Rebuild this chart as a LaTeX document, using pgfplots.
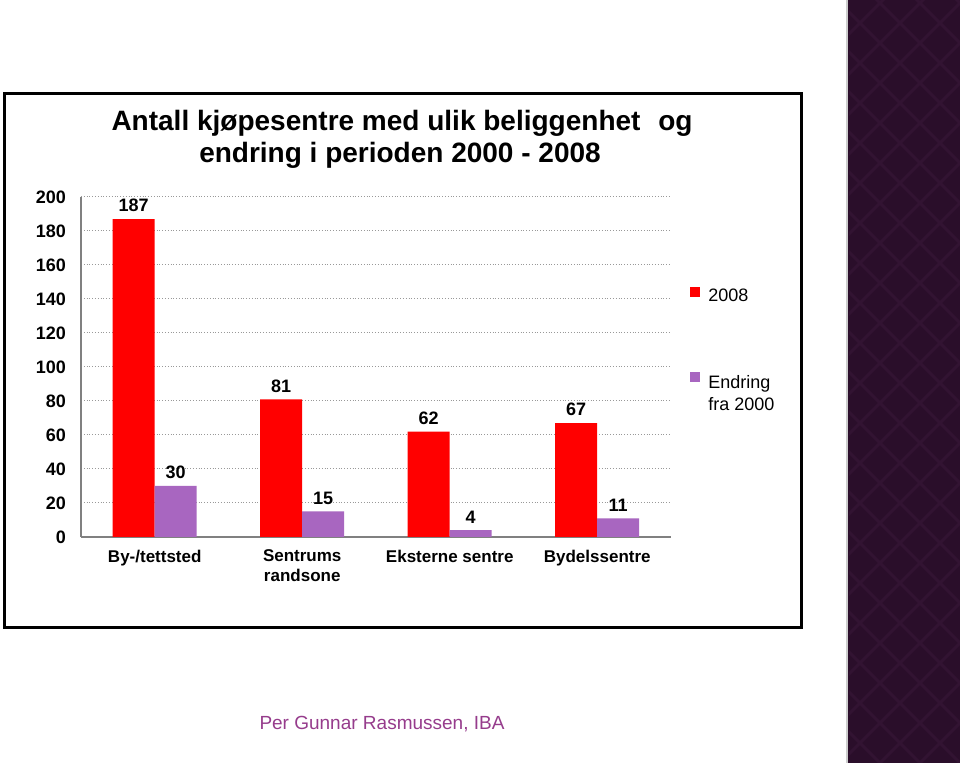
\documentclass[border=0pt]{standalone}
\usepackage{pgfplots}
\pgfplotsset{compat=1.18}
\usepackage{fontspec}
\setmainfont{Liberation Sans}
\definecolor{barred}{RGB}{255,0,0}
\definecolor{barpurple}{RGB}{168,102,192}
\definecolor{stripbg}{RGB}{42,14,42}
\definecolor{stripdia}{RGB}{50,19,50}
\definecolor{footer}{RGB}{150,60,140}
\begin{document}
\begin{tikzpicture}[x=0.5pt,y=0.5pt]
\path[use as bounding box] (0,0) rectangle (960,763);
\fill[white] (0,0) rectangle (960,763);
% decorative strip
\fill[stripbg] (847,0) rectangle (960,763);
\begin{scope}
\clip (849,0) rectangle (960,763);
\foreach \c in {-200,-160,...,1000} {
  \draw[stripdia, line width=1.5pt] (840,\c) -- (980,\c+140);
  \draw[stripdia, line width=1.5pt] (840,\c) -- (980,\c-140);
}
\end{scope}
\draw[gray!40, line width=1pt] (847,0) -- (847,763);
% frame
\draw[line width=1.5pt] (4,669) rectangle (801,135);
% title
\node[anchor=base, font=\bfseries\fontsize{14}{16}\selectfont] at (402,632) {Antall kjøpesentre med ulik beliggenhet\hspace{5pt} og};
\node[anchor=base, font=\bfseries\fontsize{14}{16}\selectfont] at (400,600) {endring i perioden 2000 - 2008};
% footer
\node[anchor=base, font=\fontsize{9.5}{11}\selectfont, text=footer] at (382,33) {Per Gunnar Rasmussen, IBA};
\begin{axis}[
  at={(40.5pt,113pt)}, anchor=south west,
  scale only axis, width=295pt, height=170pt,
  ybar=0pt, bar width=21pt,
  xmin=-0.5, xmax=3.5, ymin=0, ymax=200,
  xtick={0,1,2,3},
  xticklabels={By-/tettsted,{Sentrums\\randsone},Eksterne sentre,Bydelssentre},
  ytick={0,20,...,200},
  axis x line*=bottom, axis y line*=left,
  axis line style={gray, line width=0.8pt, -},
  major tick length=0pt,
  ymajorgrids, grid style={densely dotted, gray!80, line width=0.5pt},
  /pgf/number format/assume math mode=true,
  yticklabel style={font=\bfseries\fontsize{9}{10}\selectfont, xshift=-4pt},
  xticklabel style={font=\bfseries\fontsize{8.5}{10}\selectfont, align=center, yshift=-3pt},
  nodes near coords,
  nodes near coords style={font=\bfseries\fontsize{9}{10}\selectfont, text=black},
  legend style={at={(1.032,0.742)}, anchor=north west, draw=none, fill=none, inner sep=0pt,
    font=\fontsize{9}{11}\selectfont, row sep=30pt},
  legend cell align=left,
  legend image code/.code={\path[fill=none,draw=none] (0pt,0pt) rectangle (7pt,5pt);\fill[#1] (0pt,0pt) rectangle (5pt,5pt);},
]
\addplot[fill=barred, draw=none] coordinates {(0,187) (1,81) (2,62) (3,67)};
\addplot[fill=barpurple, draw=none] coordinates {(0,30) (1,15) (2,4) (3,11)};
\legend{2008,{\begin{tabular}[t]{@{}l@{}}Endring\\fra 2000\end{tabular}}}
\end{axis}
\end{tikzpicture}
\end{document}
